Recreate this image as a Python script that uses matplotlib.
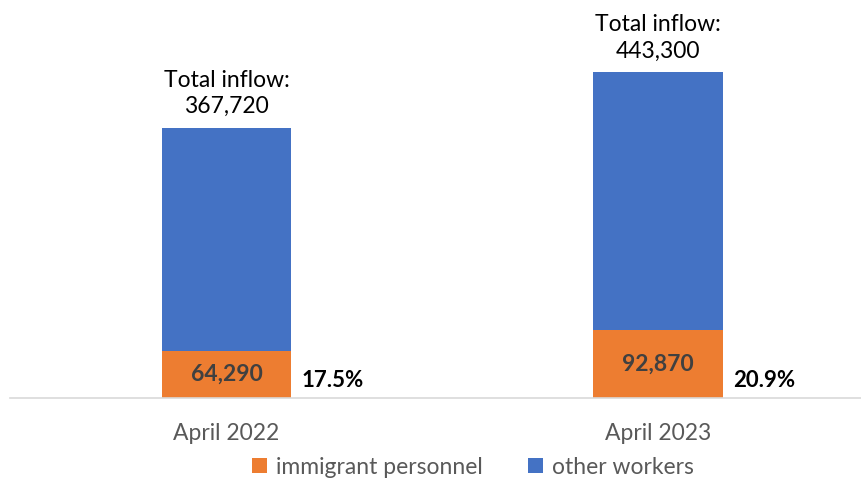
import matplotlib.pyplot as plt

plt.rcParams['font.family'] = ['Lato', 'DejaVu Sans']

periods = ["April 2022", "April 2023"]
immigrant = [64290, 92870]
other = [303430, 350430]
totals = [367720, 443300]
shares = ["17.5%", "20.9%"]

fig = plt.figure(figsize=(8.61, 4.83), dpi=100)
ax = fig.add_axes([10/861, 85/483, 851/861, 398/483])

x = range(len(periods))
ax.bar(x, immigrant, 0.3, color='#ED7D31', label='immigrant personnel')
ax.bar(x, other, 0.3, bottom=immigrant, color='#4472C4', label='other workers')

for i in x:
    ax.text(i, immigrant[i] / 2, f"{immigrant[i]:,}", ha='center', va='center',
            fontsize=16.5, fontweight='bold', color='#404040')
    ax.text(i + 0.245, 23500, shares[i], ha='center', va='center',
            fontsize=16, fontweight='bold', color='black')
    ax.text(i, totals[i] + 15000, f"Total inflow:\n{totals[i]:,}", ha='center', va='bottom',
            fontsize=16.5, color='black', linespacing=1.3)

ax.set_xlim(-0.5017, 1.47)
ax.set_ylim(0, 542000)
ax.set_xticks(list(x))
ax.set_xticklabels(periods, fontsize=16.5, color='#595959')
ax.tick_params(axis='x', length=0, pad=18)
ax.set_yticks([])
for s in ['top', 'right', 'left']:
    ax.spines[s].set_visible(False)
ax.spines['bottom'].set_color('#D9D9D9')
ax.spines['bottom'].set_linewidth(1.2)

fig.legend(loc='center', bbox_to_anchor=(473/861, 1 - 467/483), ncol=2, frameon=False,
           fontsize=16.5, labelcolor='#595959', handlelength=0.65, handleheight=0.65,
           columnspacing=2.0, handletextpad=0.4)

fig.savefig('out.png', dpi=100)
